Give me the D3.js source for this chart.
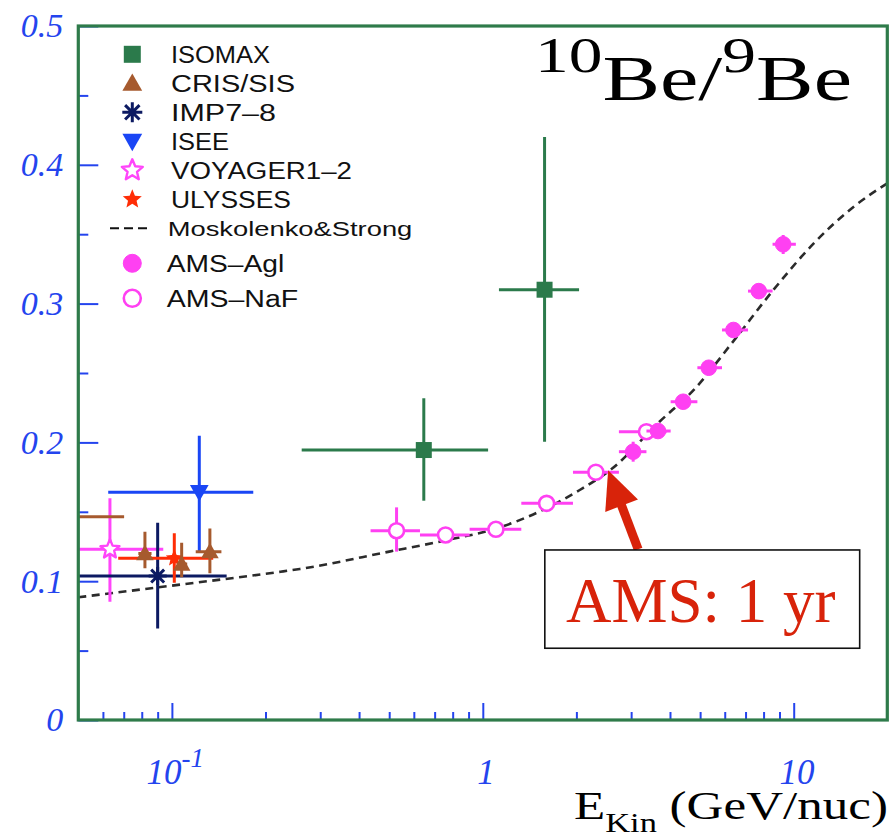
<!DOCTYPE html>
<html>
<head>
<meta charset="utf-8">
<script src="https://cdn.jsdelivr.net/npm/d3@7"></script>
<style>
  html, body { margin: 0; padding: 0; background: #fff; }
  svg { display: block; }
</style>
</head>
<body>
<svg id="chart" width="894" height="838"></svg>
<script>
// ---------------- data: 10Be/9Be ratio vs kinetic energy per nucleon ----------------
// each point: e (GeV/nuc), eLo/eHi (energy bin), r (ratio), rLo/rHi (ratio error)
const isomax = [
  { e: 0.646, eLo: 0.2615, eHi: 1.04, r: 0.1945, rLo: 0.158, rHi: 0.2318 },
  { e: 1.58,  eLo: 1.127,  eHi: 2.04, r: 0.310,  rLo: 0.2005, rHi: 0.420 }
];
const crisSis = [
  { e: 0.045,  eLo: 0.040,  eHi: 0.0702, r: 0.1465, rLo: 0.140,  rHi: 0.153 },
  { e: 0.0819, eLo: 0.078,  eHi: 0.086,  r: 0.120,  rLo: 0.1093, rHi: 0.1357 },
  { e: 0.1075, eLo: 0.104,  eHi: 0.112,  r: 0.1124, rLo: 0.1028, rHi: 0.1277 },
  { e: 0.1325, eLo: 0.1193, eHi: 0.1443, r: 0.1213, rLo: 0.1057, rHi: 0.138 }
];
const imp78 = [
  { e: 0.090, eLo: 0.048, eHi: 0.150, r: 0.1037, rLo: 0.066, rHi: 0.1422 }
];
const isee = [
  { e: 0.1225, eLo: 0.0624, eHi: 0.1827, r: 0.1641, rLo: 0.1218, rHi: 0.2048 }
];
const voyager = [
  { e: 0.0632, eLo: 0.045, eHi: 0.0938, r: 0.123, rLo: 0.0852, rHi: 0.1597 }
];
const ulysses = [
  { e: 0.1018, eLo: 0.0672, eHi: 0.1358, r: 0.1165, rLo: 0.0989, rHi: 0.1345 }
];
const amsNaF = [
  { e: 0.528, eLo: 0.4355, eHi: 0.628, r: 0.1364, rLo: 0.1213, rHi: 0.1532 },
  { e: 0.759, eLo: 0.628,  eHi: 0.907, r: 0.1333, rLo: 0.1305, rHi: 0.1361 },
  { e: 1.102, eLo: 0.907,  eHi: 1.33,  r: 0.1374, rLo: 0.1346, rHi: 0.1402 },
  { e: 1.604, eLo: 1.33,   eHi: 1.95,  r: 0.1561, rLo: 0.1531, rHi: 0.1591 },
  { e: 2.31,  eLo: 1.95,   eHi: 2.74,  r: 0.1785, rLo: 0.1755, rHi: 0.1815 },
  { e: 3.36,  eLo: 2.74,   eHi: 3.90,  r: 0.2077, rLo: 0.2047, rHi: 0.2107 }
];
const amsAgl = [
  { e: 3.045, eLo: 2.74, eHi: 3.36,  r: 0.1933, rLo: 0.1861, rHi: 0.2005 },
  { e: 3.66,  eLo: 3.36, eHi: 4.02,  r: 0.2082, rLo: 0.2030, rHi: 0.2134 },
  { e: 4.41,  eLo: 4.02, eHi: 4.90,  r: 0.2293, rLo: 0.2241, rHi: 0.2345 },
  { e: 5.33,  eLo: 4.90, eHi: 5.88,  r: 0.2538, rLo: 0.2486, rHi: 0.2590 },
  { e: 6.40,  eLo: 5.88, eHi: 7.13,  r: 0.2810, rLo: 0.2758, rHi: 0.2862 },
  { e: 7.72,  eLo: 7.13, eHi: 8.55,  r: 0.3090, rLo: 0.3038, rHi: 0.3142 },
  { e: 9.25,  eLo: 8.55, eHi: 10.16, r: 0.3427, rLo: 0.3357, rHi: 0.3494 }
];
// propagation model curve (Moskalenko & Strong)
const modelE = [0.05, 0.1, 0.16, 0.2235, 0.258, 0.5, 0.77, 1.11, 1.6, 2.05, 2.6, 3.7, 4.77, 6.38, 8.6, 11.6, 15.6, 20];
const modelR = [0.0884, 0.0968, 0.1025, 0.1068, 0.1088, 0.1213, 0.1297, 0.1381, 0.1525, 0.1657, 0.181, 0.2149, 0.2378, 0.2726, 0.3098, 0.3434, 0.3698, 0.3867];

// axes
const eDomain = [0.05, 20];
const rDomain = [0, 0.5];
const rMajorTicks = [0, 0.1, 0.2, 0.3, 0.4, 0.5];
const rMinorTicks = [0.05, 0.15, 0.25, 0.35, 0.45];
const eMajorTicks = [0.1, 1, 10];
const eMinorTicks = [0.06, 0.07, 0.08, 0.09, 0.2, 0.3, 0.4, 0.5, 0.6, 0.7, 0.8, 0.9, 2, 3, 4, 5, 6, 7, 8, 9];

// legend entries
const legendLabels = ["ISOMAX", "CRIS/SIS", "IMP7–8", "ISEE", "VOYAGER1–2", "ULYSSES", "Moskolenko&Strong", "AMS–Agl", "AMS–NaF"];

// annotation (data coordinates)
const noteText = "AMS: 1 yr";
const noteTip = [2.53, 0.180];
const noteTail = [3.16, 0.123];
const noteBox = { e0: 1.583, e1: 16.3, r0: 0.0517, r1: 0.1225 };

// ---------------- drawing ----------------
const L = 78.3, R = 887.3, T = 26, B = 720;
const frameGreen = "#2e7b4a";
const tickBlue = "#2444ee";
const serif = "'Liberation Serif','Times New Roman',Times,serif";
const sans = "'Liberation Sans',Arial,Helvetica,sans-serif";

const x = d3.scaleLog().domain(eDomain).range([L, R]);
const y = d3.scaleLinear().domain(rDomain).range([B, T]);

const svg = d3.select("#chart");
svg.append("rect").attr("width", 894).attr("height", 838).attr("fill", "#fff");

svg.append("defs").append("clipPath").attr("id", "plotClip")
  .append("rect").attr("x", L).attr("y", T).attr("width", R - L).attr("height", B - T);

// marker shapes
const shapes = {
  square: s => `M${-s/2},${-s/2}h${s}v${s}h${-s}Z`,
  triUp: s => `M0,${-s*0.55}L${s*0.55},${s*0.42}L${-s*0.55},${s*0.42}Z`,
  triDown: s => `M0,${s*0.55}L${s*0.55},${-s*0.42}L${-s*0.55},${-s*0.42}Z`,
  star: (s, k = 0.45) => {
    const pts = [];
    for (let i = 0; i < 10; i++) {
      const rad = i % 2 === 0 ? s : s * k;
      const a = -Math.PI / 2 + i * Math.PI / 5;
      pts.push([rad * Math.cos(a), rad * Math.sin(a)]);
    }
    return "M" + pts.map(p => p[0].toFixed(2) + "," + p[1].toFixed(2)).join("L") + "Z";
  },
  asterisk: s => {
    const d = s * 0.72;
    return `M${-s},0L${s},0M0,${-s}L0,${s}M${-d},${-d}L${d},${d}M${-d},${d}L${d},${-d}`;
  }
};

function marker(g, type, size, color, open) {
  if (type === "circle") {
    return g.append("circle").attr("r", size)
      .attr("fill", open ? "#fff" : color).attr("stroke", color).attr("stroke-width", open ? 2.6 : 1);
  }
  const p = g.append("path").attr("d", shapes[type](size));
  if (type === "asterisk") p.attr("fill", "none").attr("stroke", color).attr("stroke-width", 3);
  else if (open) p.attr("fill", "#fff").attr("stroke", color).attr("stroke-width", 2.4).attr("stroke-linejoin", "round");
  else p.attr("fill", color);
  return p;
}

// ticks (inside the frame)
const tickStyle = g => {
  g.select(".domain").remove();
  g.selectAll(".tick line").attr("stroke", tickBlue).attr("stroke-width", 2);
  g.selectAll(".tick text").attr("fill", tickBlue).attr("font-family", serif)
    .attr("font-style", "italic");
};

svg.append("g").attr("transform", `translate(${L},0)`)
  .call(d3.axisLeft(y).tickValues(rMinorTicks).tickSizeInner(-10).tickSizeOuter(0).tickFormat(""))
  .call(tickStyle);
svg.append("g").attr("transform", `translate(${L},0)`)
  .call(d3.axisLeft(y).tickValues(rMajorTicks).tickSizeInner(-20).tickSizeOuter(0).tickPadding(15)
    .tickFormat(d => d === 0 ? "0" : d3.format(".1f")(d)))
  .call(tickStyle)
  .call(g => g.selectAll(".tick text").attr("font-size", 34));

svg.append("g").attr("transform", `translate(0,${B})`)
  .call(d3.axisBottom(x).tickValues(eMinorTicks).tickSizeInner(-8).tickSizeOuter(0).tickFormat(""))
  .call(tickStyle);
svg.append("g").attr("transform", `translate(0,${B})`)
  .call(d3.axisBottom(x).tickValues(eMajorTicks).tickSizeInner(-17).tickSizeOuter(0).tickPadding(39)
    .tickFormat(d => d < 1 ? "" : String(d)))
  .call(tickStyle)
  .call(g => g.selectAll(".tick text").attr("font-size", 35).attr("dx", "0.08em")
    .each(function (d) {
      if (d < 1) {
        const t = d3.select(this);
        t.append("tspan").text("10");
        t.append("tspan").attr("dy", "-0.62em").attr("font-size", 27).text("-" + Math.round(-Math.log10(d)));
      }
    }));

// model curve
const plot = svg.append("g").attr("clip-path", "url(#plotClip)");
const modelPts = modelE.map((e, i) => [e, modelR[i]]);
plot.append("path")
  .datum(modelPts)
  .attr("fill", "none")
  .attr("stroke", "#2b2b2b")
  .attr("stroke-width", 2.6)
  .attr("stroke-dasharray", "8,5.5")
  .attr("d", d3.line().x(d => x(d[0])).y(d => y(d[1])).curve(d3.curveMonotoneX));

// data series
function drawSeries(data, color, type, size, open) {
  const g = plot.append("g");
  data.forEach(d => {
    g.append("line").attr("x1", x(d.eLo)).attr("x2", x(d.eHi))
      .attr("y1", y(d.r)).attr("y2", y(d.r)).attr("stroke", color).attr("stroke-width", 3);
    g.append("line").attr("x1", x(d.e)).attr("x2", x(d.e))
      .attr("y1", y(d.rLo)).attr("y2", y(d.rHi)).attr("stroke", color).attr("stroke-width", 3);
    const m = g.append("g").attr("transform", `translate(${x(d.e)},${y(d.r)})`);
    marker(m, type, size, color, open);
  });
}

const cGreen = "#2b7a4b", cBrown = "#a65a2e", cNavy = "#0c1a62", cBlue = "#1a46f5",
      cMagenta = "#ff45fa", cRed = "#ff2d06", cAms = "#ff40f2";

drawSeries(isee, cBlue, "triDown", 17, false);
drawSeries(voyager, cMagenta, "star", 10, true);
drawSeries(imp78, cNavy, "asterisk", 9, false);
drawSeries(ulysses, cRed, "star", 9, false);
drawSeries(crisSis, cBrown, "triUp", 16, false);
drawSeries(isomax, cGreen, "square", 16, false);
drawSeries(amsNaF, cAms, "circle", 7.5, true);
drawSeries(amsAgl, cAms, "circle", 7.8, false);

// frame
svg.append("rect").attr("x", L).attr("y", T).attr("width", R - L).attr("height", B - T)
  .attr("fill", "none").attr("stroke", frameGreen).attr("stroke-width", 3.2);

// legend
const legendSpec = [
  { type: "square", size: 17, color: cGreen },
  { type: "triUp", size: 18, color: cBrown },
  { type: "asterisk", size: 10, color: cNavy },
  { type: "triDown", size: 18, color: cBlue },
  { type: "star", size: 11, color: cMagenta, open: true },
  { type: "star", size: 10, color: cRed },
  { type: "dash" },
  { type: "circle", size: 9, color: cAms },
  { type: "circle", size: 8.5, color: cAms, open: true }
];
const legendTextX = [171, 171, 171, 171, 171, 171, 167.7, 166.7, 166.7];
const legendTextW = [99, 124, 105, 58, 181, 120, 244.6, 117.6, 131.6];
const legend = svg.append("g");
legendLabels.forEach((label, i) => {
  const yy = 54.3 + i * 29 + (i >= 7 ? (i - 6) * 6 : 0);
  const spec = legendSpec[i];
  if (spec.type === "dash") {
    legend.append("line").attr("x1", 110).attr("x2", 149).attr("y1", yy).attr("y2", yy)
      .attr("stroke", "#111").attr("stroke-width", 2).attr("stroke-dasharray", "9,5");
  } else {
    const m = legend.append("g").attr("transform", `translate(132.3,${yy})`);
    marker(m, spec.type, spec.size, spec.color, spec.open);
  }
  legend.append("text")
    .attr("x", legendTextX[i]).attr("y", yy)
    .attr("dy", "0.36em")
    .attr("font-family", sans)
    .attr("font-size", i === 6 ? 20 : 23)
    .attr("fill", "#111")
    .attr("textLength", legendTextW[i])
    .attr("lengthAdjust", "spacingAndGlyphs")
    .text(label);
});

// stretch a text element so it spans [x0, x1] with the given baseline
function fitText(sel, x0, x1, baseline) {
  const bb = sel.node().getBBox();
  const s = (x1 - x0) / bb.width;
  sel.attr("transform", `translate(${x0 - bb.x * s},${baseline}) scale(${s},1)`);
}

// title
const title = svg.append("text").attr("font-family", serif).attr("fill", "#000");
title.append("tspan").attr("font-size", 50).attr("dy", -28).text("10");
title.append("tspan").attr("font-size", 64).attr("dy", 28).text("Be/");
title.append("tspan").attr("font-size", 50).attr("dy", -28).text("9");
title.append("tspan").attr("font-size", 64).attr("dy", 28).text("Be");
fitText(title, 535, 852, 100);

// x axis title
const xTitle = svg.append("text").attr("font-family", serif).attr("fill", "#000");
xTitle.append("tspan").attr("font-size", 40).text("E");
xTitle.append("tspan").attr("font-size", 27).attr("dy", 13).text("Kin");
xTitle.append("tspan").attr("font-size", 40).attr("dy", -13).text(" (GeV/nuc)");
fitText(xTitle, 574, 888, 819);

// annotation: arrow and boxed note
const red = "#d8230a";
const tip = [x(noteTip[0]), y(noteTip[1])];
const tail = [x(noteTail[0]), y(noteTail[1])];
const dx = tip[0] - tail[0], dy = tip[1] - tail[1];
const len = Math.hypot(dx, dy);
const ux = dx / len, uy = dy / len;
const headLen = 38, headHalf = 17.5;
const base = [tip[0] - ux * headLen, tip[1] - uy * headLen];
svg.append("line")
  .attr("x1", tail[0]).attr("y1", tail[1])
  .attr("x2", base[0] + ux * 4).attr("y2", base[1] + uy * 4)
  .attr("stroke", red).attr("stroke-width", 9);
svg.append("path")
  .attr("d", `M${tip[0]},${tip[1]}L${base[0] - uy * headHalf},${base[1] + ux * headHalf}L${base[0] + uy * headHalf},${base[1] - ux * headHalf}Z`)
  .attr("fill", red);

const bx0 = x(noteBox.e0), bx1 = x(noteBox.e1), by0 = y(noteBox.r1), by1 = y(noteBox.r0);
svg.append("rect").attr("x", bx0).attr("y", by0).attr("width", bx1 - bx0).attr("height", by1 - by0)
  .attr("fill", "#fff").attr("stroke", "#111").attr("stroke-width", 1.6);
svg.append("text")
  .attr("x", (bx0 + bx1) / 2 - 1.5).attr("y", by0 + 72)
  .attr("text-anchor", "middle")
  .attr("font-family", serif).attr("font-size", 63).attr("fill", red)
  .text(noteText);
</script>
</body>
</html>
